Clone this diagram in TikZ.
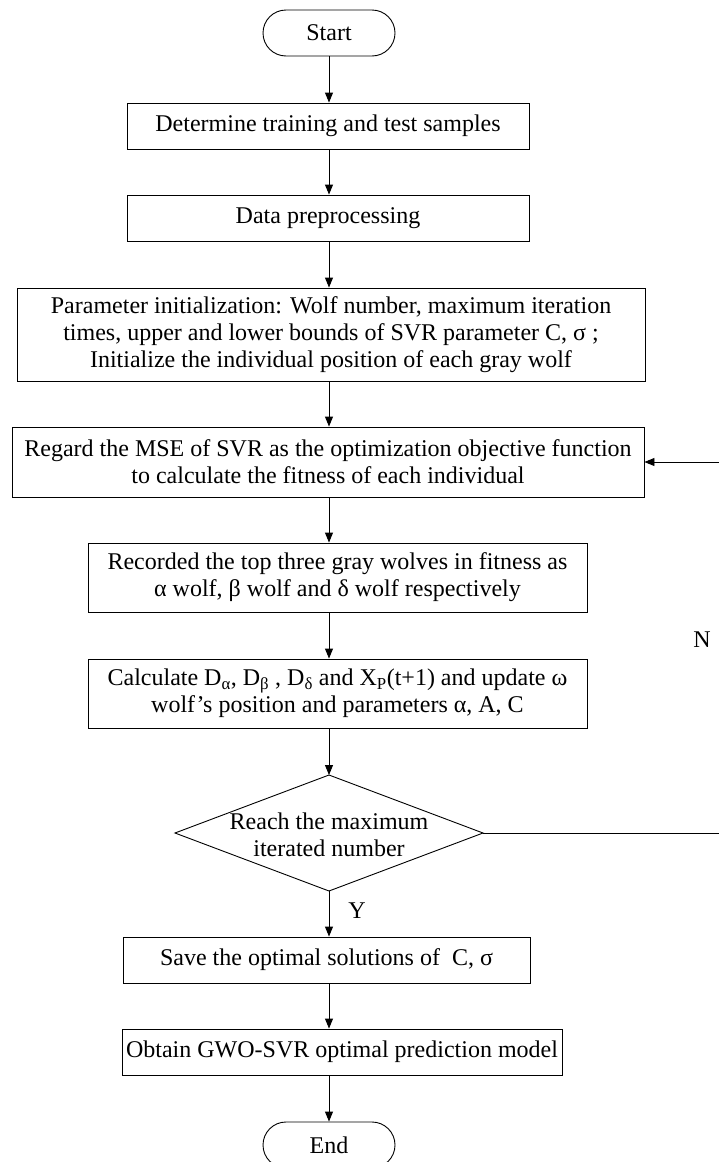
\documentclass[tikz,border=0pt]{standalone}
\usepackage{fontspec}
\setmainfont{Liberation Serif}
\usetikzlibrary{shapes.misc, arrows.meta}

\begin{document}
\begin{tikzpicture}[x = 1pt, y = -1pt, font = \fontsize{24}{27}\selectfont,
	box/.style = {draw, line width = 0.9pt, align = center, inner sep = 0pt},
	term/.style = {draw, rounded rectangle, line width = 0.9pt, minimum width = 132pt, minimum height = 46pt, inner sep = 0pt},
	flow/.style = {line width = 0.9pt, -{Triangle[length = 10pt, width = 8pt]}}]
	\useasboundingbox (0, 0) rectangle (718, 1162);
	\node[term] (start) at (329, 33) {Start};
	\node[box, minimum width = 402pt, minimum height = 46pt] (samples) at (328, 126) {Determine training and test samples};
	\node[box, minimum width = 402pt, minimum height = 46pt] (prep) at (328, 218) {Data preprocessing};
	\node[box, minimum width = 628pt, minimum height = 93pt] (init) at (331, 334.5) {Parameter initialization: Wolf number, maximum iteration\\times, upper and lower bounds of SVR parameter C, σ ;\\Initialize the individual position of each gray wolf};
	\node[box, minimum width = 632pt, minimum height = 70pt] (regard) at (328, 462) {Regard the MSE of SVR as the optimization objective function\\to calculate the fitness of each individual};
	\node[box, minimum width = 499pt, minimum height = 69pt] (record) at (337.5, 577.5) {Recorded the top three gray wolves in fitness as\\α wolf, β wolf and δ wolf respectively};
	\node[box, minimum width = 499pt, minimum height = 69pt] (update) at (337.5, 693.5) {Calculate D\textsubscript{α}, D\textsubscript{β} , D\textsubscript{δ} and X\textsubscript{P}(t+1) and update ω\\wolf's position and parameters α, A, C};
	\node[align = center] (reach) at (329, 835) {Reach the maximum\\iterated number};
	\coordinate (dtop) at (329, 775);
	\coordinate (dright) at (483, 833);
	\coordinate (dbottom) at (329, 891);
	\coordinate (dleft) at (175, 833);
	\draw[line width = 0.9pt] (dtop) -- (dright) -- (dbottom) -- (dleft) -- cycle;
	\node[box, minimum width = 407pt, minimum height = 46pt] (save) at (326.5, 960) {Save the optimal solutions of \ C, σ};
	\node[box, minimum width = 440pt, minimum height = 46pt] (model) at (342, 1052) {Obtain GWO-SVR optimal prediction model};
	\node[term] (stop) at (329, 1145) {End};
	\node (yes) at (357, 911) {Y};
	\node (no) at (702, 640) {N};
	\coordinate (corner) at (719, 833);
	\draw[flow] (start.south) -- (samples.north -| start);
	\draw[flow] (samples.south -| start) -- (prep.north -| start);
	\draw[flow] (prep.south -| start) -- (init.north -| start);
	\draw[flow] (init.south -| start) -- (regard.north -| start);
	\draw[flow] (regard.south -| start) -- (record.north -| start);
	\draw[flow] (record.south -| start) -- (update.north -| start);
	\draw[flow] (update.south -| start) -- (dtop);
	\draw[flow] (dbottom) -- (save.north -| start);
	\draw[flow] (save.south -| start) -- (model.north -| start);
	\draw[flow] (model.south -| start) -- (stop.north);
	\draw[flow] (dright) -- (corner) |- (regard.east);
\end{tikzpicture}
\end{document}
